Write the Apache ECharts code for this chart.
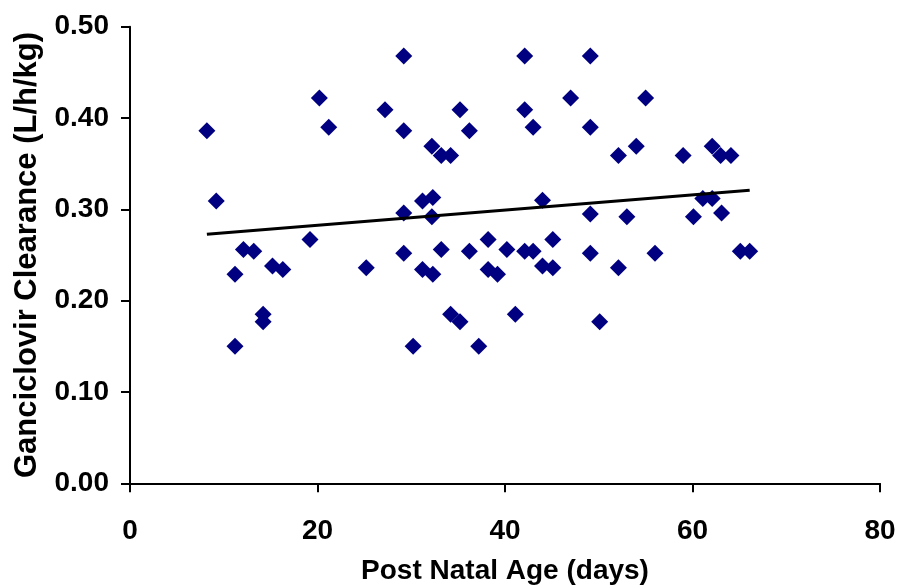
<!DOCTYPE html>
<html>
<head>
<meta charset="utf-8">
<script src="https://cdn.jsdelivr.net/npm/echarts@6/dist/echarts.min.js"></script>
<style>
  html, body { margin: 0; padding: 0; background: #fff; }
  #chart { width: 899px; height: 585px; }
</style>
</head>
<body>
<div id="chart"></div>
<script>
// Post natal age (days)
var ageDays = [
  8.2, 9.2, 11.2, 11.2, 12.1, 13.2, 14.2, 14.2, 15.2, 16.3,
  19.2, 20.2, 21.2, 25.2, 27.2, 29.2, 29.2, 29.2, 29.2, 30.2,
  31.2, 31.2, 32.2, 32.3, 32.2, 32.3, 33.2, 33.2, 34.2, 34.2,
  35.2, 35.2, 36.2, 36.2, 37.2, 38.2, 38.2, 39.2, 40.2, 41.1,
  42.1, 42.1, 42.1, 43.0, 43.0, 44.0, 44.0, 45.1, 45.1, 47.0,
  49.1, 49.1, 49.1, 49.1, 50.1, 52.1, 52.1, 53.0, 54.0, 55.0,
  56.0, 59.0, 60.1, 61.1, 62.1, 62.1, 63.0, 63.1, 64.1, 65.1,
  66.1
];
// Ganciclovir clearance (L/h/kg)
var clearance = [
  0.386, 0.309, 0.229, 0.150, 0.256, 0.254, 0.185, 0.177, 0.238, 0.234,
  0.267, 0.422, 0.390, 0.236, 0.409, 0.468, 0.386, 0.296, 0.252, 0.150,
  0.309, 0.234, 0.369, 0.313, 0.292, 0.229, 0.359, 0.256, 0.359, 0.185,
  0.409, 0.177, 0.386, 0.254, 0.150, 0.267, 0.234, 0.229, 0.256, 0.185,
  0.468, 0.409, 0.254, 0.390, 0.254, 0.310, 0.238, 0.267, 0.236, 0.422,
  0.468, 0.390, 0.295, 0.252, 0.177, 0.359, 0.236, 0.292, 0.369, 0.422,
  0.252, 0.359, 0.292, 0.312, 0.312, 0.369, 0.359, 0.296, 0.359, 0.254,
  0.254
];
// Linear trend line end points
var trendX = [8.2, 66.1];
var trendY = [0.2727, 0.321];
// Axis ticks
var xTicks = [0, 20, 40, 60, 80];
var yTicks = [0.0, 0.1, 0.2, 0.3, 0.4, 0.5];

var points = ageDays.map(function (x, i) { return [x, clearance[i]]; });
var trend = trendX.map(function (x, i) { return [x, trendY[i]]; });

var chart = echarts.init(document.getElementById('chart'), null, { renderer: 'canvas' });
var fontFam = '"Liberation Sans", Arial, sans-serif';
chart.setOption({
  backgroundColor: '#ffffff',
  animation: false,
  grid: { left: 130, right: 19, top: 26.7, bottom: 101.7, containLabel: false, outerBoundsMode: 'none' },
  xAxis: {
    type: 'value',
    min: xTicks[0], max: xTicks[xTicks.length - 1], interval: 20,
    name: 'Post Natal Age (days)',
    nameLocation: 'middle',
    nameGap: 74,
    nameTextStyle: { color: '#000', fontFamily: fontFam, fontWeight: 'bold', fontSize: 28 },
    axisLine: { show: true, onZero: false, lineStyle: { color: '#000', width: 2 } },
    axisTick: { show: true, inside: false, length: 9, lineStyle: { color: '#000', width: 2 } },
    axisLabel: { color: '#000', fontFamily: fontFam, fontWeight: 'bold', fontSize: 28, margin: 34 },
    splitLine: { show: false }
  },
  yAxis: {
    type: 'value',
    min: yTicks[0], max: yTicks[yTicks.length - 1], interval: 0.1,
    name: 'Ganciclovir Clearance (L/h/kg)',
    nameLocation: 'middle',
    nameGap: 87,
    nameRotate: 90,
    nameTextStyle: { color: '#000', fontFamily: fontFam, fontWeight: 'bold', fontSize: 31 },
    axisLine: { show: true, onZero: false, lineStyle: { color: '#000', width: 2 } },
    axisTick: { show: true, inside: false, length: 9, lineStyle: { color: '#000', width: 2 } },
    axisLabel: {
      color: '#000', fontFamily: fontFam, fontWeight: 'bold', fontSize: 28, margin: 21,
      formatter: function (v) { return v.toFixed(2); }
    },
    splitLine: { show: false }
  },
  series: [
    {
      type: 'scatter',
      data: points,
      symbol: 'diamond',
      symbolSize: 17,
      itemStyle: { color: '#000080', opacity: 1 },
      z: 2
    },
    {
      type: 'line',
      data: trend,
      symbol: 'none',
      lineStyle: { color: '#000', width: 3 },
      z: 3
    }
  ]
});
</script>
</body>
</html>
